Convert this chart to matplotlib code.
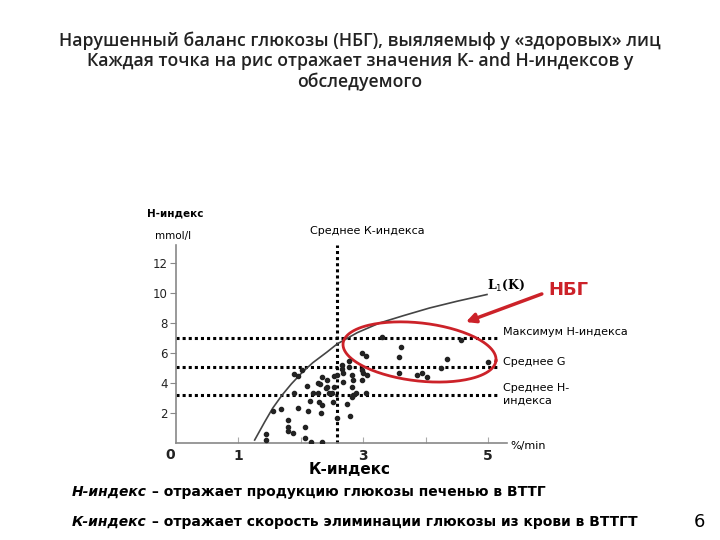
import matplotlib
matplotlib.use("Agg")
import matplotlib.pyplot as plt
import numpy as np

plt.rcParams['font.family'] = ['DejaVu Sans']

# K-index (%/min) and H-index (mmol/l) of each subject
k_vals = [1.44, 1.44, 1.55, 1.68, 1.79, 1.79, 1.79, 1.87, 1.89, 1.95, 2.02, 1.89,
          1.95, 2.06, 2.06, 2.16, 2.34, 2.10, 2.14, 2.19, 2.27, 2.27, 2.34, 2.29,
          2.34, 2.42, 2.42, 2.45, 2.51, 2.53, 2.53, 2.58, 2.66, 2.67, 2.67, 2.74,
          2.77, 2.78, 2.82, 2.82, 2.83, 2.88, 2.98, 3.04, 2.98, 2.98, 3.06, 3.04,
          3.30, 3.60, 3.57, 3.57, 3.86, 3.94, 4.02, 4.24, 4.34, 4.56, 4.99, 2.30,
          2.40, 2.50, 2.58, 2.32, 2.11, 2.77, 2.83, 2.99, 2.82, 2.66]
h_vals = [0.60, 0.20, 2.13, 2.27, 1.53, 1.07, 0.80, 0.67, 4.60, 4.47, 4.87, 3.33,
          2.33, 1.07, 0.33, 0.07, 0.07, 3.80, 2.80, 3.33, 3.33, 4.00, 4.40, 2.73,
          2.53, 4.20, 3.73, 3.33, 2.73, 3.73, 4.47, 1.67, 5.20, 4.67, 4.07, 2.60,
          5.47, 1.80, 4.53, 3.73, 3.20, 3.33, 6.00, 5.80, 4.87, 4.20, 4.53, 3.33,
          7.07, 6.40, 5.73, 4.67, 4.53, 4.67, 4.40, 5.00, 5.60, 6.87, 5.40, 3.93,
          3.67, 3.33, 4.53, 2.00, 2.13, 5.07, 4.20, 4.67, 3.07, 4.93]

# L1(K) boundary curve
curve_k = [1.26, 1.42, 1.55, 1.70, 1.85, 2.02, 2.19, 2.42, 2.58, 2.90, 3.26, 3.65,
           4.06, 4.50, 4.98]
curve_h = [0.2, 1.4, 2.33, 3.2, 3.95, 4.7, 5.35, 6.07, 6.6, 7.35, 8.0, 8.5,
           9.0, 9.45, 9.9]

h_max, g_mean, h_mean = 7.0, 5.1, 3.2
k_mean = 2.58

fig = plt.figure(figsize=(7.2, 5.4), dpi=100)
ax = fig.add_axes([0.2444, 0.1796, 0.4597, 0.3667])
ax.set_xlim(0, 5.3)
ax.set_ylim(0, 13.2)

for s in ['top', 'right']:
    ax.spines[s].set_visible(False)
for s in ['left', 'bottom']:
    ax.spines[s].set_color('#888888')
    ax.spines[s].set_linewidth(1.2)

ax.set_yticks([2, 4, 6, 8, 10, 12])
ax.set_yticklabels(['2', '4', '6', '8', '10', '12'], fontsize=8.5, color='#222222')
ax.tick_params(axis='y', direction='out', length=4, color='#888888', pad=2)
ax.set_xticks([1, 2, 3, 4, 5])
ax.set_xticklabels(['1', '', '3', '', '5'], fontsize=10, fontweight='bold', color='#222222')
ax.tick_params(axis='x', direction='in', length=4, color='#aaaaaa', pad=4)
ax.text(-0.1, -0.35, '0', fontsize=10, fontweight='bold', color='#222222',
        ha='center', va='top')

# dotted reference lines
for hv in [h_max, g_mean, h_mean]:
    ax.plot([0, 5.14], [hv, hv], color='black', linestyle=(0, (1, 1)), lw=2.2)
ax.plot([k_mean, k_mean], [0, 13.2], color='black', linestyle=(0, (1, 1)), lw=2.2,
        clip_on=False)

ax.plot(curve_k, curve_h, color='#444444', lw=1.2)
ax.scatter(k_vals, h_vals, s=9, color='#222222', zorder=3)

# red highlighted region (ellipse built in pixel-like units)
t = np.linspace(0, 2 * np.pi, 200)
theta = np.deg2rad(-6.5)
a, b = 77, 29
dx = a * np.cos(t) * np.cos(theta) - b * np.sin(t) * np.sin(theta)
dy = a * np.cos(t) * np.sin(theta) + b * np.sin(t) * np.cos(theta)
ax.plot(3.9 + dx / 62.5, 6.07 + dy / 15, color='#cc2229', lw=2)

ax.text(4.98, 10.0, 'L$_1$(K)', fontsize=9, fontweight='bold', family='DejaVu Serif',
        ha='left', va='bottom')

fig.text(0.789, 0.463, 'НБГ', fontsize=13, fontweight='bold', color='#cc2229',
         ha='center', va='center')
ax.annotate('', xy=(4.6, 8.0), xytext=(5.9, 10.0),
            arrowprops=dict(arrowstyle='-|>', color='#cc2229', lw=2.5,
                            mutation_scale=14), annotation_clip=False)

fig.text(0.699, 0.385, 'Максимум Н-индекса', fontsize=8, ha='left', va='center')
fig.text(0.699, 0.330, 'Среднее G', fontsize=8, ha='left', va='center')
fig.text(0.699, 0.270, 'Среднее Н-\nиндекса', fontsize=8, ha='left', va='center',
         linespacing=1.3)
fig.text(0.709, 0.174, '%/min', fontsize=8, ha='left', va='center')

fig.text(0.204, 0.605, 'Н-индекс', fontsize=7.5, fontweight='bold', ha='left', va='center')
fig.text(0.215, 0.563, 'mmol/l', fontsize=7.5, ha='left', va='center')
fig.text(0.43, 0.573, 'Среднее К-индекса', fontsize=8, ha='left', va='center')

fig.text(0.486, 0.130, 'К-индекс', fontsize=11, fontweight='bold', ha='center', va='center')

title = ('Нарушенный баланс глюкозы (НБГ), выяляемыф у «здоровых» лиц\n'
         'Каждая точка на рис отражает значения K- and H-индексов у\n'
         'обследуемого')
fig.text(0.5, 0.887, title, fontsize=12.7, fontweight='semibold', color='#222222',
         ha='center', va='center', linespacing=1.17, family='Open Sans')

# footer notes: italic term followed by its description
notes = [('Н-индекс', ' – отражает продукцию глюкозы печенью в ВТТГ', 0.089),
         ('К-индекс', ' – отражает скорость элиминации глюкозы из крови в ВТТГТ', 0.033)]
for term, desc, yy in notes:
    t1 = fig.text(0.1, yy, term, fontsize=10, fontweight='bold', style='italic',
                  ha='left', va='center')
    ax.annotate(desc, xy=(1, 0.5), xycoords=t1, fontsize=10, fontweight='bold',
                ha='left', va='center', annotation_clip=False)
fig.text(0.972, 0.033, '6', fontsize=13, ha='center', va='center')

fig.savefig('out.png', dpi=100)
